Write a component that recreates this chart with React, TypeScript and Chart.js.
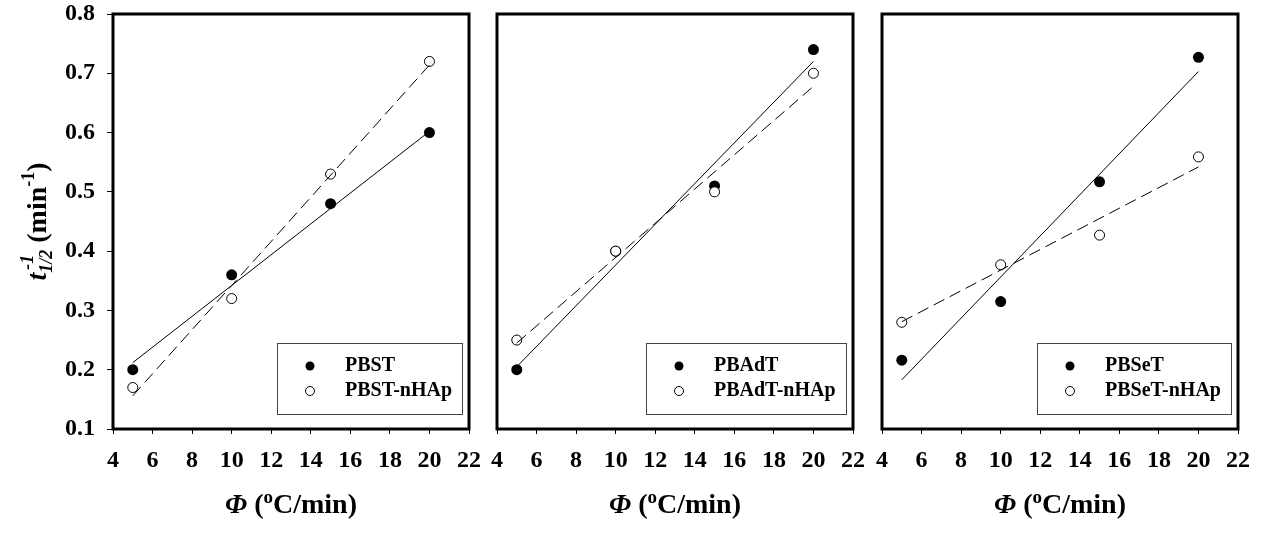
import React, { useEffect, useRef } from "react";
import { Chart, registerables } from "chart.js";

Chart.register(...registerables);

// ---- data ----
const phi = [5, 10, 15, 20];

const pbst = [0.2, 0.36, 0.48, 0.6];
const pbstNHAp = [0.17, 0.32, 0.53, 0.72];
const pbadt = [0.2, 0.4, 0.51, 0.74];
const pbadtNHAp = [0.25, 0.4, 0.5, 0.7];
const pbset = [0.216, 0.315, 0.517, 0.727];
const pbsetNHAp = [0.28, 0.377, 0.427, 0.559];

// fitted lines (end points)
const fitPhi = [5, 20];
const fitPbst = [0.212, 0.602];
const fitPbstNHAp = [0.156, 0.714];
const fitPbadt = [0.205, 0.72];
const fitPbadtNHAp = [0.245, 0.678];
const fitPbset = [0.183, 0.703];
const fitPbsetNHAp = [0.281, 0.542];

const xMin = 4;
const xMax = 22;
const xStep = 2;
const yMin = 0.1;
const yMax = 0.8;
const yStep = 0.1;

const FONT = "'Liberation Serif', 'Times New Roman', serif";
const W = 1262;
const H = 535;

type PanelCfg = {
  names: [string, string];
  filled: number[];
  open: number[];
  fitFilled: number[];
  fitOpen: number[];
  showY: boolean;
  plotLeft: number;
  plotRight: number;
};

const panels: PanelCfg[] = [
  { names: ["PBST", "PBST-nHAp"], filled: pbst, open: pbstNHAp, fitFilled: fitPbst, fitOpen: fitPbstNHAp, showY: true, plotLeft: 113, plotRight: 469 },
  { names: ["PBAdT", "PBAdT-nHAp"], filled: pbadt, open: pbadtNHAp, fitFilled: fitPbadt, fitOpen: fitPbadtNHAp, showY: false, plotLeft: 497, plotRight: 853 },
  { names: ["PBSeT", "PBSeT-nHAp"], filled: pbset, open: pbsetNHAp, fitFilled: fitPbset, fitOpen: fitPbsetNHAp, showY: false, plotLeft: 882, plotRight: 1238 },
];

const PLOT_TOP = 14;
const PLOT_BOTTOM = 429;

type Seg = { text: string; size: number; italic?: boolean; dy?: number; dx?: number; advance?: boolean };

function fontStr(s: Seg) {
  return `${s.italic ? "italic " : ""}bold ${s.size}px ${FONT}`;
}

function drawRich(ctx: CanvasRenderingContext2D, segs: Seg[], cx: number, baseY: number) {
  const widths = segs.map((s) => {
    ctx.font = fontStr(s);
    return ctx.measureText(s.text).width;
  });
  let total = 0;
  segs.forEach((s, i) => {
    if (s.advance !== false) total += widths[i];
  });
  let x = cx - total / 2;
  ctx.textAlign = "left";
  ctx.textBaseline = "alphabetic";
  ctx.fillStyle = "#000";
  segs.forEach((s, i) => {
    ctx.font = fontStr(s);
    ctx.fillText(s.text, x + (s.dx || 0), baseY + (s.dy || 0));
    if (s.advance !== false) x += widths[i];
  });
}

const TITLE = 28;
const SMALL = 18;

const xTitle: Seg[] = [
  { text: "\u03A6", size: TITLE, italic: true },
  { text: " (", size: TITLE },
  { text: "o", size: 19, dy: -10 },
  { text: "C/min)", size: TITLE },
];

function makePlugin(cfg: PanelCfg) {
  return {
    id: "decor",
    afterDraw(chart: any) {
      const ctx: CanvasRenderingContext2D = chart.ctx;
      const a = chart.chartArea;
      ctx.save();
      // frame
      ctx.strokeStyle = "#000";
      ctx.lineWidth = 3;
      ctx.strokeRect(a.left, a.top, a.right - a.left, a.bottom - a.top);

      // legend
      ctx.font = `bold 20px ${FONT}`;
      const tw = Math.max(...cfg.names.map((n) => ctx.measureText(n).width));
      const bw = Math.round(68 + tw + 10);
      const bh = 71;
      const bx = Math.round(a.right - 7 - bw);
      const by = Math.round(a.bottom - 15 - bh);
      ctx.fillStyle = "#fff";
      ctx.fillRect(bx, by, bw, bh);
      ctx.strokeStyle = "#444";
      ctx.lineWidth = 1;
      ctx.strokeRect(bx + 0.5, by + 0.5, bw, bh);
      const rows = [by + 23, by + 48];
      rows.forEach((ry, i) => {
        ctx.beginPath();
        ctx.arc(bx + 33, ry, 4.5, 0, Math.PI * 2);
        if (i === 0) {
          ctx.fillStyle = "#000";
          ctx.fill();
        } else {
          ctx.fillStyle = "#fff";
          ctx.fill();
          ctx.strokeStyle = "#000";
          ctx.lineWidth = 1;
          ctx.stroke();
        }
        ctx.fillStyle = "#000";
        ctx.font = `bold 20px ${FONT}`;
        ctx.textAlign = "left";
        ctx.textBaseline = "middle";
        ctx.fillText(cfg.names[i], bx + 68, ry);
      });

      // x title
      drawRich(ctx, xTitle, (a.left + a.right) / 2, 513);

      // y title
      if (cfg.showY) {
        ctx.save();
        ctx.translate(46, (a.top + a.bottom) / 2);
        ctx.rotate(-Math.PI / 2);
        ctx.font = fontStr({ text: "", size: SMALL, italic: true });
        const wSub = ctx.measureText("1/2").width;
        drawRich(
          ctx,
          [
            { text: "t", size: TITLE, italic: true },
            { text: "1/2", size: SMALL, italic: true, dy: 6 },
            { text: "-1", size: SMALL, italic: true, dy: -13, dx: -wSub + 3, advance: false },
            { text: " (min", size: TITLE },
            { text: "-1", size: SMALL, dy: -12 },
            { text: ")", size: TITLE },
          ],
          0,
          0
        );
        ctx.restore();
      }
      ctx.restore();
    },
  };
}

function Panel({ cfg }: { cfg: PanelCfg }) {
  const ref = useRef<HTMLCanvasElement | null>(null);
  useEffect(() => {
    if (!ref.current) return;
    const tickFont = { family: FONT, size: 24, weight: "bold" as const };
    const yAxisWidth = cfg.showY ? cfg.plotLeft : 0;
    const chart = new Chart(ref.current, {
      type: "scatter",
      data: {
        datasets: [
          {
            label: cfg.names[0] + " fit",
            data: fitPhi.map((x, i) => ({ x, y: cfg.fitFilled[i] })),
            showLine: true,
            borderColor: "#000",
            borderWidth: 1,
            pointRadius: 0,
            order: 0,
          },
          {
            label: cfg.names[1] + " fit",
            data: fitPhi.map((x, i) => ({ x, y: cfg.fitOpen[i] })),
            showLine: true,
            borderColor: "#000",
            borderWidth: 1,
            borderDash: [12, 6],
            pointRadius: 0,
            order: 1,
          },
          {
            label: cfg.names[1],
            data: phi.map((x, i) => ({ x, y: cfg.open[i] })),
            showLine: false,
            pointRadius: 5,
            pointBackgroundColor: "#fff",
            pointBorderColor: "#000",
            pointBorderWidth: 1,
            order: 2,
          },
          {
            label: cfg.names[0],
            data: phi.map((x, i) => ({ x, y: cfg.filled[i] })),
            showLine: false,
            pointRadius: 5.5,
            pointBackgroundColor: "#000",
            pointBorderColor: "#000",
            pointBorderWidth: 0,
            order: 3,
          },
        ],
      },
      options: {
        responsive: false,
        animation: false,
        devicePixelRatio: 1,
        layout: {
          padding: {
            top: PLOT_TOP,
            left: cfg.showY ? 0 : cfg.plotLeft,
            right: W - cfg.plotRight,
            bottom: 0,
          },
        },
        plugins: { legend: { display: false }, tooltip: { enabled: false } },
        scales: {
          x: {
            type: "linear",
            min: xMin,
            max: xMax,
            ticks: { stepSize: xStep, font: tickFont, color: "#000", padding: 12, maxRotation: 0, autoSkip: false },
            grid: { display: true, drawOnChartArea: false, drawTicks: true, tickLength: 5, color: "#000", lineWidth: 1 },
            border: { display: false },
            afterFit: (s: any) => {
              s.height = H - PLOT_BOTTOM;
              s.paddingLeft = 0;
              s.paddingRight = 0;
            },
          },
          y: {
            display: cfg.showY,
            min: yMin,
            max: yMax,
            ticks: {
              stepSize: yStep,
              font: tickFont,
              color: "#000",
              padding: 12,
              callback: (v: any) => Number(v).toFixed(1),
            },
            grid: { display: true, drawOnChartArea: false, drawTicks: true, tickLength: 6, color: "#000", lineWidth: 1 },
            border: { display: false },
            afterFit: (s: any) => {
              s.width = yAxisWidth;
              s.paddingTop = 0;
              s.paddingBottom = 0;
            },
          },
        },
      } as any,
      plugins: [makePlugin(cfg)],
    });
    return () => chart.destroy();
  }, [cfg]);
  return (
    <canvas
      ref={ref}
      width={W}
      height={H}
      style={{ position: "absolute", left: 0, top: 0, width: W, height: H }}
    />
  );
}

export default function App() {
  return (
    <div style={{ position: "absolute", left: 0, top: 0, width: W, height: H, background: "#fff", overflow: "hidden" }}>
      {panels.map((p) => (
        <Panel key={p.names[0]} cfg={p} />
      ))}
    </div>
  );
}
